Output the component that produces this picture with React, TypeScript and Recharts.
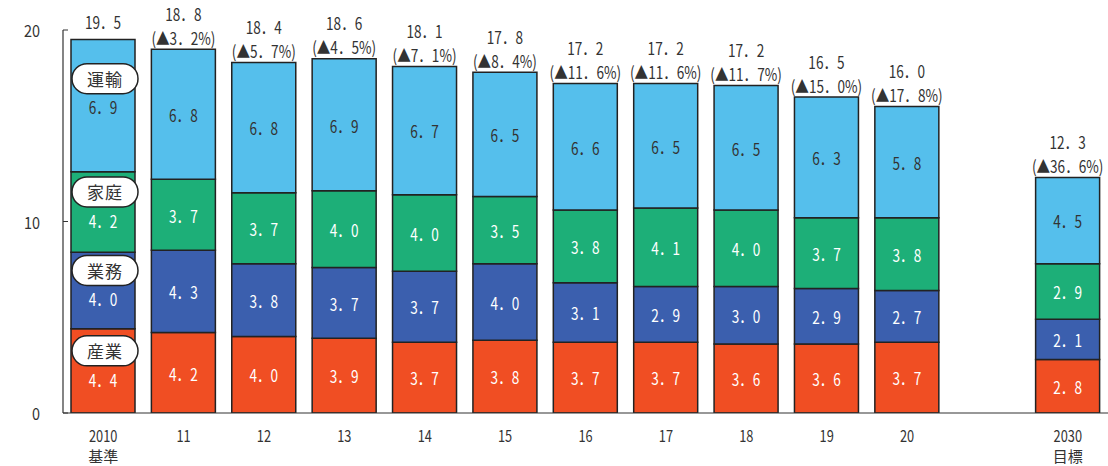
import React from 'react';
import { BarChart, Bar, XAxis, YAxis, LabelList } from 'recharts';

const categories = ['2010', '11', '12', '13', '14', '15', '16', '17', '18', '19', '20', '', '2030'];
const subLabels = ['基準', '', '', '', '', '', '', '', '', '', '', '', '目標'];
const industry = [4.4, 4.2, 4.0, 3.9, 3.7, 3.8, 3.7, 3.7, 3.6, 3.6, 3.7, null, 2.8];
const business = [4.0, 4.3, 3.8, 3.7, 3.7, 4.0, 3.1, 2.9, 3.0, 2.9, 2.7, null, 2.1];
const household = [4.2, 3.7, 3.7, 4.0, 4.0, 3.5, 3.8, 4.1, 4.0, 3.7, 3.8, null, 2.9];
const transport = [6.9, 6.8, 6.8, 6.9, 6.7, 6.5, 6.6, 6.5, 6.5, 6.3, 5.8, null, 4.5];
const totals = [19.5, 18.8, 18.4, 18.6, 18.1, 17.8, 17.2, 17.2, 17.2, 16.5, 16.0, null, 12.3];
const changes = [null, 3.2, 5.7, 4.5, 7.1, 8.4, 11.6, 11.6, 11.7, 15.0, 17.8, null, 36.6];
const yTicks = [0, 10, 20];

const values: Record<string, (number | null)[]> = { industry, business, household, transport };

const series = [
  { key: 'industry', name: '産業', color: '#F04E23', text: '#ffffff', shift: 8 },
  { key: 'business', name: '業務', color: '#3B5FAE', text: '#ffffff', shift: 8 },
  { key: 'household', name: '家庭', color: '#1DAF78', text: '#ffffff', shift: 8 },
  { key: 'transport', name: '運輸', color: '#55BFEC', text: '#333333', shift: 1 },
];

const data = categories.map((c, i) => ({
  cat: c,
  sub: subLabels[i],
  industry: industry[i],
  business: business[i],
  household: household[i],
  transport: transport[i],
}));

const FONT = '"Noto Sans CJK JP", "Noto Sans", sans-serif';
const INK = '#333333';

const fmt = (v: number) => v.toFixed(1).replace('.', '．');

const NText = ({ x, y, size, fill, children, anchor = 'middle', sx = 0.8 }: any) => (
  <text
    transform={`translate(${x},${y}) scale(${sx},1)`}
    textAnchor={anchor}
    dominantBaseline="central"
    fontSize={size}
    fill={fill}
    fontFamily={FONT}
  >
    {children}
  </text>
);

const makeSegLabel = (s: any) => (props: any) => {
  const { x, y, width, height, value } = props;
  const index = categories.indexOf(String(value));
  if (index < 0) return null;
  const v = values[s.key][index];
  if (v == null) return null;
  const cx = Number(x) + Number(width) / 2;
  const cy = Number(y) + Number(height) / 2;
  const base = index === 0;
  const vy = base ? cy + s.shift : cy;
  return (
    <g>
      {base && (
        <g>
          <rect x={cx - 31} y={vy - 28 - 15} width={66} height={30} rx={15} ry={15} fill="#ffffff" stroke="#222222" strokeWidth={1.5} />
          <text x={cx + 2} y={vy - 28} textAnchor="middle" dominantBaseline="central" fontSize={17} fill={INK} fontFamily={FONT} letterSpacing={1}>
            {s.name}
          </text>
        </g>
      )}
      <NText x={cx} y={vy} size={17} fill={s.text}>{fmt(v)}</NText>
    </g>
  );
};

const TotalLabel = (props: any) => {
  const { x, y, width, value } = props;
  const index = categories.indexOf(String(value));
  if (index < 0) return null;
  const t = totals[index];
  if (t == null) return null;
  const cx = Number(x) + Number(width) / 2;
  const top = Number(y);
  const ch = changes[index];
  if (ch == null) {
    return <NText x={cx} y={top - 18} size={17} fill={INK}>{fmt(t)}</NText>;
  }
  return (
    <g>
      <NText x={cx} y={top - 36} size={17} fill={INK}>{fmt(t)}</NText>
      <NText x={cx} y={top - 12} size={17} fill={INK}>{`(▲${fmt(ch)}%)`}</NText>
    </g>
  );
};

const YTick = (props: any) => {
  const { x, y, payload } = props;
  return (
    <g>
      <line x1={x + 23} x2={x + 28} y1={y} y2={y} stroke={INK} strokeWidth={1} />
      <NText x={x} y={y} size={17} fill={INK} anchor="end" sx={0.85}>{payload.value}</NText>
    </g>
  );
};

const XTick = (props: any) => {
  const { x, y, index } = props;
  const c = categories[index];
  const s = subLabels[index];
  return (
    <g>
      {c && <NText x={x} y={y + 22} size={16} fill={INK} sx={0.8}>{c}</NText>}
      {s && (
        <text x={x} y={y + 42} textAnchor="middle" dominantBaseline="central" fontSize={15} fill={INK} fontFamily={FONT}>
          {s}
        </text>
      )}
    </g>
  );
};

export default function App() {
  return (
    <div style={{ position: 'absolute', left: 0, top: 0, width: 1108, height: 466, background: '#ffffff' }}>
      <BarChart
        width={1108}
        height={466}
        data={data}
        margin={{ top: 30, right: 0, bottom: 0, left: 0 }}
        barSize={64}
      >
        <XAxis
          dataKey="cat"
          height={53}
          interval={0}
          tickLine={false}
          tickSize={0}
          tickMargin={0}
          axisLine={{ stroke: INK, strokeWidth: 1.2 }}
          tick={<XTick />}
        />
        <YAxis
          width={63}
          domain={[0, 20]}
          ticks={yTicks}
          type="number"
          allowDataOverflow
          tickLine={false}
          tickSize={0}
          tickMargin={23}
          axisLine={{ stroke: INK, strokeWidth: 1.2 }}
          tick={<YTick />}
        />
        {series.map((s) => (
          <Bar
            key={s.key}
            dataKey={s.key}
            stackId="a"
            fill={s.color}
            stroke="#222222"
            strokeWidth={1.5}
            isAnimationActive={false}
          >
            <LabelList dataKey="cat" content={makeSegLabel(s)} />
            {s.key === 'transport' && <LabelList dataKey="cat" content={TotalLabel} />}
          </Bar>
        ))}
      </BarChart>
    </div>
  );
}
